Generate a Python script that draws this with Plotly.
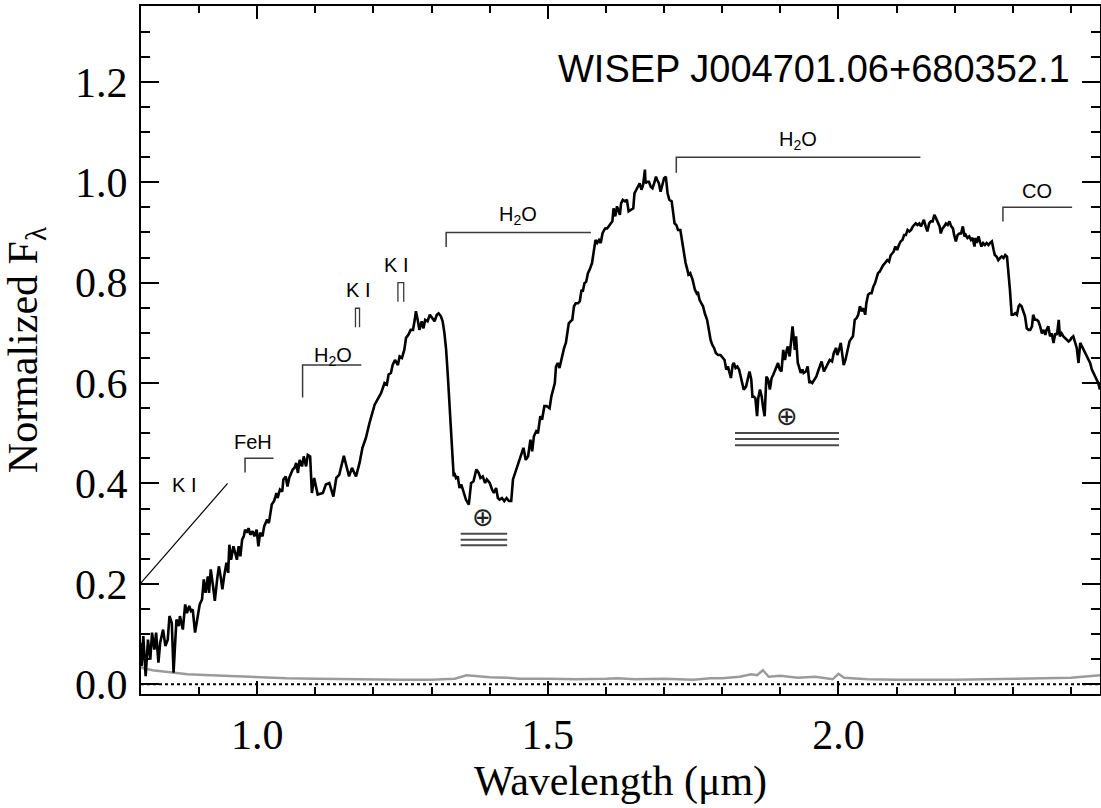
import plotly.graph_objects as go

# ---------------- data ----------------
wavelength = [
    0.800, 0.801, 0.804, 0.808, 0.812, 0.816, 0.819, 0.823, 0.826, 0.830,
    0.833, 0.838, 0.842, 0.846, 0.849, 0.853, 0.856, 0.861, 0.865, 0.867,
    0.872, 0.876, 0.879, 0.883, 0.886, 0.889, 0.893, 0.897, 0.901, 0.905,
    0.908, 0.911, 0.915, 0.917, 0.920, 0.924, 0.927, 0.931, 0.934, 0.937,
    0.940, 0.943, 0.947, 0.950, 0.952, 0.955, 0.959, 0.962, 0.965, 0.968,
    0.971, 0.974, 0.977, 0.979, 0.982, 0.985, 0.988, 0.992, 0.995, 0.999,
    1.002, 1.005, 1.009, 1.012, 1.017, 1.020, 1.022, 1.025, 1.029, 1.033,
    1.035, 1.039, 1.043, 1.045, 1.049, 1.052, 1.055, 1.058, 1.061, 1.064,
    1.067, 1.070, 1.073, 1.077, 1.080, 1.084, 1.087, 1.091,
    1.094, 1.098, 1.104, 1.113, 1.118, 1.124, 1.131, 1.136, 1.141, 1.149,
    1.153, 1.158, 1.163, 1.170, 1.176, 1.181, 1.187, 1.193, 1.202,
    1.213, 1.219, 1.223, 1.226, 1.230, 1.233, 1.237, 1.242, 1.245, 1.249,
    1.253, 1.256, 1.260, 1.264, 1.268, 1.271, 1.273, 1.276, 1.279, 1.283,
    1.286, 1.289, 1.293, 1.297, 1.302, 1.305, 1.309, 1.312, 1.316, 1.319,
    1.322, 1.325, 1.328, 1.331, 1.334, 1.336, 1.338,
    1.339, 1.342, 1.345, 1.348, 1.351, 1.354, 1.357, 1.359, 1.364, 1.368,
    1.372, 1.377, 1.381, 1.384, 1.388, 1.392, 1.395, 1.400, 1.404, 1.407,
    1.411, 1.414, 1.417, 1.421, 1.425, 1.429, 1.433, 1.437, 1.440, 1.446,
    1.450, 1.454, 1.458, 1.462, 1.466, 1.470, 1.473, 1.476, 1.480, 1.483,
    1.487, 1.490, 1.494, 1.498, 1.503, 1.506, 1.509, 1.512, 1.514, 1.517,
    1.520, 1.524, 1.528, 1.531, 1.533, 1.536, 1.539, 1.542, 1.545, 1.548,
    1.552, 1.555, 1.558, 1.560, 1.563, 1.566, 1.569, 1.572, 1.576, 1.579,
    1.582, 1.585, 1.588, 1.591, 1.594, 1.597, 1.599, 1.602, 1.605, 1.608,
    1.611, 1.613, 1.616, 1.619,
    1.624, 1.626, 1.629, 1.633, 1.636, 1.639, 1.644, 1.647, 1.649, 1.652,
    1.655, 1.658, 1.661, 1.664, 1.667, 1.668, 1.671, 1.674, 1.677, 1.680,
    1.683, 1.686, 1.688, 1.691, 1.694, 1.697, 1.700, 1.703, 1.706, 1.709,
    1.713, 1.715, 1.718, 1.721, 1.724, 1.728, 1.730, 1.734, 1.737, 1.740,
    1.742, 1.745, 1.749, 1.753, 1.756, 1.758, 1.761, 1.764, 1.767, 1.770,
    1.774, 1.777, 1.780, 1.783, 1.786, 1.789, 1.793, 1.797, 1.802, 1.804,
    1.807, 1.810, 1.812, 1.815, 1.818, 1.820, 1.823, 1.826, 1.829, 1.832,
    1.834, 1.837, 1.841, 1.844, 1.847, 1.850, 1.852, 1.854, 1.857, 1.860,
    1.862, 1.865, 1.868, 1.870, 1.873, 1.876, 1.879, 1.882, 1.885, 1.888,
    1.891, 1.893, 1.896, 1.899, 1.902, 1.905, 1.908, 1.911, 1.913, 1.916,
    1.919, 1.921, 1.923, 1.925, 1.927, 1.930, 1.932, 1.935, 1.938, 1.940,
    1.944, 1.947, 1.950, 1.952, 1.955, 1.959, 1.962, 1.966, 1.968,
    1.971, 1.975, 1.978, 1.982, 1.985, 1.989, 1.992, 1.996, 1.998, 2.001,
    2.004, 2.007, 2.009, 2.012, 2.015, 2.019, 2.023, 2.025, 2.028, 2.031,
    2.034, 2.037, 2.040, 2.043, 2.046, 2.048, 2.051, 2.054, 2.057, 2.060,
    2.063, 2.066, 2.068, 2.071, 2.074, 2.077, 2.080, 2.084, 2.087, 2.090,
    2.093, 2.095, 2.098, 2.101, 2.104, 2.107, 2.110, 2.113, 2.116, 2.119,
    2.122, 2.125, 2.128, 2.131, 2.133, 2.136, 2.139, 2.142, 2.145, 2.147,
    2.150, 2.153, 2.156, 2.159, 2.162, 2.165, 2.168, 2.171, 2.174, 2.176,
    2.179, 2.182, 2.185, 2.188, 2.191, 2.194, 2.197, 2.199, 2.202, 2.205,
    2.208, 2.211, 2.214, 2.217, 2.219, 2.222, 2.225, 2.228, 2.231, 2.234,
    2.236, 2.238, 2.241, 2.244, 2.246, 2.249, 2.252, 2.255, 2.258, 2.261,
    2.264, 2.267, 2.269, 2.272, 2.275, 2.278, 2.281, 2.284, 2.287, 2.290,
    2.292, 2.295, 2.298, 2.301, 2.304, 2.307, 2.310, 2.312, 2.315, 2.318,
    2.321, 2.324, 2.327, 2.330, 2.333, 2.335, 2.338, 2.341, 2.344, 2.347,
    2.350, 2.353, 2.356, 2.358, 2.361, 2.364, 2.367, 2.370, 2.373, 2.376,
    2.379, 2.381, 2.384, 2.387, 2.390, 2.393, 2.396, 2.399, 2.401, 2.404,
    2.407, 2.410, 2.413, 2.416, 2.419, 2.422, 2.424, 2.427, 2.430, 2.433,
    2.436, 2.439, 2.442, 2.445, 2.447, 2.450,
]

flux = [
    0.083, 0.036, 0.096, 0.016, 0.089, 0.049, 0.103, 0.069, 0.103, 0.043,
    0.083, 0.109, 0.076, 0.089, 0.136, 0.122, 0.023, 0.129, 0.116, 0.136,
    0.109, 0.159, 0.142, 0.156, 0.146, 0.149, 0.103, 0.129, 0.159, 0.169,
    0.209, 0.182, 0.215, 0.182, 0.229, 0.195, 0.166, 0.209, 0.235, 0.215,
    0.189, 0.215, 0.242, 0.222, 0.278, 0.248, 0.275, 0.262, 0.248, 0.275,
    0.255, 0.288, 0.295, 0.308, 0.302, 0.311, 0.298, 0.305, 0.295, 0.308,
    0.275, 0.302, 0.295, 0.315, 0.328, 0.321, 0.341, 0.358, 0.365, 0.381,
    0.371, 0.388, 0.384, 0.408, 0.414, 0.394, 0.411, 0.418, 0.428, 0.431,
    0.441, 0.421, 0.447, 0.434, 0.454, 0.434, 0.457, 0.454,
    0.381, 0.411, 0.378, 0.381, 0.398, 0.401, 0.374, 0.411, 0.417, 0.455,
    0.434, 0.414, 0.431, 0.414, 0.441, 0.471, 0.491, 0.520, 0.557,
    0.580, 0.600, 0.597, 0.617, 0.620, 0.636, 0.646, 0.636, 0.653, 0.650,
    0.666, 0.690, 0.696, 0.706, 0.706, 0.726, 0.743, 0.726, 0.706, 0.723,
    0.709, 0.726, 0.723, 0.736, 0.729, 0.723, 0.736, 0.739, 0.733, 0.723,
    0.700, 0.666, 0.613, 0.560, 0.507, 0.461, 0.414,
    0.421, 0.411, 0.414, 0.391, 0.398, 0.388, 0.374, 0.368, 0.358, 0.401,
    0.404, 0.428, 0.421, 0.411, 0.414, 0.401, 0.408, 0.401, 0.388, 0.381,
    0.391, 0.371, 0.368, 0.371, 0.365, 0.371, 0.365, 0.365, 0.408, 0.428,
    0.444, 0.454, 0.471, 0.447, 0.454, 0.487, 0.464, 0.494, 0.504, 0.500,
    0.534, 0.527, 0.554, 0.554, 0.550, 0.573, 0.587, 0.600, 0.633, 0.640,
    0.630, 0.653, 0.670, 0.680, 0.699, 0.719, 0.723, 0.726, 0.753, 0.759,
    0.759, 0.763, 0.786, 0.782, 0.799, 0.802, 0.819, 0.826, 0.839, 0.865,
    0.885, 0.879, 0.885, 0.879, 0.898, 0.905, 0.908, 0.908, 0.912, 0.918,
    0.922, 0.948, 0.932, 0.952,
    0.935, 0.958, 0.965, 0.962, 0.965, 0.942, 0.945, 0.948, 0.978, 0.985,
    0.991, 0.998, 0.985, 0.995, 1.025, 0.998, 1.001, 1.001, 0.991, 0.988,
    0.998, 1.011, 1.005, 0.998, 0.981, 0.998, 1.008, 1.011, 0.978, 0.965,
    0.962, 0.945, 0.918, 0.915, 0.905, 0.905, 0.889, 0.865, 0.839, 0.826,
    0.816, 0.819, 0.806, 0.786, 0.779, 0.782, 0.766, 0.759, 0.753, 0.739,
    0.726, 0.706, 0.686, 0.676, 0.670, 0.660, 0.656, 0.656, 0.650, 0.646,
    0.627, 0.633, 0.623, 0.610, 0.636, 0.640, 0.630, 0.633, 0.627, 0.613,
    0.600, 0.587, 0.593, 0.607, 0.623, 0.607, 0.573, 0.573, 0.570, 0.534,
    0.570, 0.587, 0.573, 0.554, 0.534, 0.613, 0.607, 0.587, 0.610, 0.617,
    0.627, 0.630, 0.640, 0.627, 0.623, 0.666, 0.646, 0.666, 0.673, 0.653,
    0.693, 0.713, 0.690, 0.666, 0.693, 0.640, 0.633, 0.620, 0.627, 0.620,
    0.623, 0.633, 0.600, 0.603, 0.600, 0.607, 0.613, 0.627, 0.633,
    0.643, 0.623, 0.630, 0.636, 0.646, 0.643, 0.660, 0.670, 0.656, 0.666,
    0.680, 0.653, 0.636, 0.646, 0.663, 0.683, 0.690, 0.693, 0.726, 0.729,
    0.736, 0.753, 0.743, 0.749, 0.736, 0.759, 0.776, 0.779, 0.779, 0.792,
    0.799, 0.809, 0.819, 0.822, 0.829, 0.835, 0.839, 0.845, 0.842, 0.855,
    0.859, 0.862, 0.872, 0.865, 0.875, 0.882, 0.885, 0.895, 0.895, 0.905,
    0.902, 0.905, 0.912, 0.915, 0.918, 0.915, 0.918, 0.912, 0.922, 0.925,
    0.912, 0.902, 0.918, 0.922, 0.922, 0.935, 0.928, 0.918, 0.912, 0.898,
    0.908, 0.912, 0.918, 0.915, 0.922, 0.912, 0.908, 0.895, 0.882, 0.895,
    0.898, 0.898, 0.912, 0.892, 0.895, 0.889, 0.892, 0.885, 0.889, 0.872,
    0.889, 0.879, 0.892, 0.879, 0.872, 0.879, 0.875, 0.879, 0.875, 0.879,
    0.882, 0.865, 0.855, 0.852, 0.845, 0.849, 0.852, 0.849, 0.855, 0.852,
    0.829, 0.786, 0.736, 0.736, 0.739, 0.736, 0.753, 0.756, 0.753, 0.743,
    0.733, 0.709, 0.706, 0.706, 0.713, 0.736, 0.726, 0.726, 0.723, 0.713,
    0.699, 0.706, 0.696, 0.706, 0.713, 0.693, 0.699, 0.680, 0.699, 0.696,
    0.726, 0.693, 0.699, 0.693, 0.690, 0.686, 0.683, 0.686, 0.690, 0.693,
    0.680, 0.670, 0.640, 0.680, 0.673, 0.666, 0.663, 0.656, 0.650, 0.640,
    0.627, 0.620, 0.613, 0.607, 0.600, 0.587,
]

noise_wavelength = [0.800, 0.820, 0.850, 0.880, 0.920, 0.960, 1.000, 1.050, 1.100, 1.150,
                    1.200, 1.250, 1.300, 1.340, 1.360, 1.380, 1.400, 1.430, 1.450, 1.500,
                    1.550, 1.600, 1.620, 1.650, 1.700, 1.750, 1.780, 1.800, 1.830, 1.850,
                    1.860, 1.870, 1.880, 1.900, 1.930, 1.960, 1.990, 2.000, 2.010, 2.050,
                    2.100, 2.200, 2.300, 2.350, 2.400, 2.450]
noise = [0.033, 0.028, 0.024, 0.020, 0.018, 0.016, 0.014, 0.012, 0.011, 0.010,
         0.010, 0.009, 0.009, 0.011, 0.018, 0.016, 0.014, 0.013, 0.011, 0.011,
         0.010, 0.011, 0.012, 0.010, 0.011, 0.009, 0.012, 0.012, 0.015, 0.020,
         0.018, 0.028, 0.015, 0.017, 0.013, 0.015, 0.010, 0.021, 0.013, 0.010,
         0.009, 0.009, 0.011, 0.013, 0.013, 0.018]

# band brackets (H2O, FeH, CO)
band_labels = ["FeH", "H<sub>2</sub>O", "H<sub>2</sub>O", "H<sub>2</sub>O", "CO"]
band_start = [0.979, 1.078, 1.325, 1.721, 2.283]
band_end = [1.028, 1.179, 1.574, 2.141, 2.402]
band_top = [0.450, 0.636, 0.900, 1.050, 0.950]
band_bottom = [0.422, 0.571, 0.871, 1.019, 0.922]
band_label_x = [0.992, 1.130, 1.448, 1.931, 2.341]
band_label_y = [0.483, 0.652, 0.933, 1.083, 0.983]

# K I doublets
ki_start = [1.169, 1.242]
ki_end = [1.176, 1.252]
ki_top = [0.749, 0.800]
ki_bottom = [0.711, 0.762]
ki_label_x = [1.173, 1.238]
ki_label_y = [0.786, 0.835]

# K I 0.77 um wing line
ki_wing_x = [0.800, 0.949]
ki_wing_y = [0.202, 0.400]
ki_wing_label = (0.874, 0.396)

# telluric regions
telluric_start = [1.350, 1.822]
telluric_end = [1.430, 2.001]
telluric_levels = [[0.300, 0.288, 0.277], [0.5005, 0.4885, 0.476]]
telluric_symbol_x = [1.389, 1.912]
telluric_symbol_y = [0.333, 0.534]

object_name = "WISEP J004701.06+680352.1"

# ---------------- figure ----------------
fig = go.Figure()

fig.add_trace(go.Scatter(x=noise_wavelength, y=noise, mode="lines",
                         line=dict(color="#9b9b9b", width=2.5), hoverinfo="skip"))
fig.add_trace(go.Scatter(x=wavelength, y=flux, mode="lines",
                         line=dict(color="black", width=2.6)))

# zero line
fig.add_shape(type="line", xref="x domain", yref="y", x0=0, x1=1, y0=0, y1=0,
              line=dict(color="black", width=2, dash="3px,3px"))

# band brackets
bx, by = [], []
for s, e, t, b in zip(band_start, band_end, band_top, band_bottom):
    bx += [s, s, e, None]
    by += [b, t, t, None]
fig.add_trace(go.Scatter(x=bx, y=by, mode="lines", line=dict(color="#3a3a3a", width=1.5),
                         hoverinfo="skip"))

# K I doublet markers
kx, ky = [], []
for s, e, t, b in zip(ki_start, ki_end, ki_top, ki_bottom):
    kx += [s, s, e, e, None]
    ky += [b, t, t, b, None]
fig.add_trace(go.Scatter(x=kx, y=ky, mode="lines", line=dict(color="#3a3a3a", width=1.3),
                         hoverinfo="skip"))

fig.add_trace(go.Scatter(x=ki_wing_x, y=ki_wing_y, mode="lines",
                         line=dict(color="black", width=1.2), hoverinfo="skip"))

# telluric lines
tx, ty = [], []
for s, e, levels in zip(telluric_start, telluric_end, telluric_levels):
    for lv in levels:
        tx += [s, e, None]
        ty += [lv, lv, None]
fig.add_trace(go.Scatter(x=tx, y=ty, mode="lines", line=dict(color="#4a4a4a", width=2),
                         hoverinfo="skip"))

small_font = dict(family="Liberation Sans, Arial", size=20, color="black")
for lab, lx, ly in zip(band_labels, band_label_x, band_label_y):
    fig.add_annotation(x=lx, y=ly, text=lab, showarrow=False, font=small_font,
                       xanchor="center", yanchor="middle")
for lx, ly in zip(ki_label_x, ki_label_y):
    fig.add_annotation(x=lx, y=ly, text="K I", showarrow=False, font=small_font,
                       xanchor="center", yanchor="middle")
fig.add_annotation(x=ki_wing_label[0], y=ki_wing_label[1], text="K I", showarrow=False,
                   font=small_font, xanchor="center", yanchor="middle")
for sx, sy in zip(telluric_symbol_x, telluric_symbol_y):
    fig.add_annotation(x=sx, y=sy, text="⊕", showarrow=False,
                       font=dict(family="DejaVu Sans", size=26, color="#222"),
                       xanchor="center", yanchor="middle")

fig.add_annotation(x=2.401, y=1.226, text=object_name, showarrow=False,
                   font=dict(family="Liberation Sans, Arial", size=38, color="black"),
                   xanchor="right", yanchor="middle")

axis_common = dict(showline=True, linecolor="black", linewidth=2, mirror="allticks",
                   ticks="inside", tickcolor="black", tickwidth=2, showgrid=False,
                   zeroline=False, automargin=False,
                   tickfont=dict(family="Liberation Serif", size=42, color="black"))

fig.update_layout(
    template="none",
    width=1101, height=808,
    margin=dict(l=141, r=1, t=6, b=114),
    paper_bgcolor="white", plot_bgcolor="white",
    showlegend=False,
    xaxis=dict(range=[0.8, 2.45], tick0=0, dtick=0.5, ticklen=13, tickformat=".1f",
               ticklabelstandoff=3,
               minor=dict(dtick=0.1, tick0=0, ticks="inside", ticklen=7, tickwidth=2,
                          tickcolor="black", showgrid=False),
               title=dict(text="Wavelength (μm)", standoff=4,
                          font=dict(family="Liberation Serif", size=42, color="black")),
               **axis_common),
    yaxis=dict(range=[-0.0193, 1.351], tick0=0, dtick=0.2, ticklen=18, tickformat=".1f",
               ticklabelstandoff=3,
               minor=dict(dtick=0.05, tick0=0, ticks="inside", ticklen=9, tickwidth=2,
                          tickcolor="black", showgrid=False),
               title=dict(text="Normalized F<sub>λ</sub>", standoff=24,
                          font=dict(family="Liberation Serif", size=42, color="black")),
               **axis_common),
)

fig.write_html("out.html")
